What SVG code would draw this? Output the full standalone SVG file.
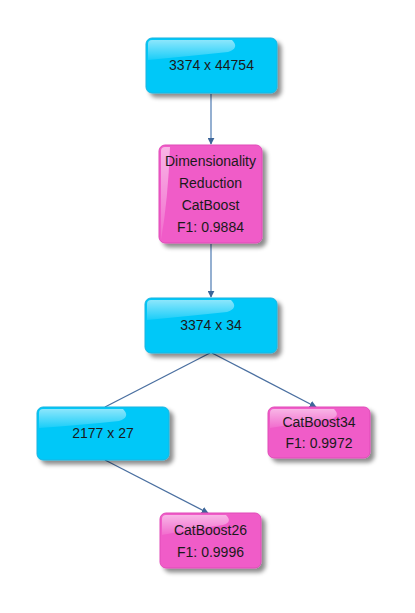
<svg xmlns="http://www.w3.org/2000/svg" width="415" height="613" viewBox="0 0 415 613">
<defs>
<filter id="sh" x="-20%" y="-20%" width="150%" height="150%">
<feDropShadow dx="4" dy="4" stdDeviation="2" flood-color="#000" flood-opacity="0.45"/>
</filter>
<linearGradient id="gloss" x1="0" y1="0" x2="0" y2="1">
<stop offset="0" stop-color="#fff" stop-opacity="0.55"/>
<stop offset="1" stop-color="#fff" stop-opacity="0.1"/>
</linearGradient>
<marker id="ah" viewBox="0 0 10 10" refX="9" refY="5" markerWidth="7" markerHeight="7" orient="auto" markerUnits="userSpaceOnUse">
<path d="M0,0 L10,5 L0,10 Z" fill="#3d6699"/>
</marker>
<style>
.blue{fill:#00c8f8;stroke:#18b4e0;stroke-width:1}
.pink{fill:#f05cc8;stroke:#e04ab8;stroke-width:1}
.t{font-family:"Liberation Sans",Arial,sans-serif;font-size:14px;fill:#1a1a1a;text-anchor:middle}
.c{stroke:#7a9cc6;stroke-width:1.6;fill:none}
.c2{stroke:#4a6fa0;stroke-width:1.3;fill:none}
</style>
</defs>
<rect width="415" height="613" fill="#fff"/>
<g id="connectors">
<line class="c" x1="211" y1="94" x2="211" y2="144" marker-end="url(#ah)"/>
<line class="c" x1="211" y1="244" x2="211" y2="297" marker-end="url(#ah)"/>
<line class="c2" x1="210" y1="353" x2="105" y2="407"/>
<line class="c2" x1="212" y1="353" x2="316" y2="407" marker-end="url(#ah)"/>
<line class="c2" x1="105" y1="460" x2="208" y2="513" marker-end="url(#ah)"/>
</g>
<g id="n1">
<rect class="blue" x="146" y="38" width="131" height="55" rx="6" filter="url(#sh)"/>
<path d="M148,60 L148,44 Q148,40 152,40 L232,40 Q240,48 228,52 Q190,56 148,60 Z" fill="url(#gloss)"/>
<text class="t" x="211.5" y="70">3374 x 44754</text>
</g>
<g id="n2">
<rect class="pink" x="159" y="145" width="103" height="98" rx="6" filter="url(#sh)"/>
<path d="M161,240 L161,151 Q161,147 165,147 L170,147 Q168,200 161,240 Z" fill="url(#gloss)"/>
<text class="t" x="210.5" y="166">Dimensionality</text>
<text class="t" x="210.5" y="188">Reduction</text>
<text class="t" x="210.5" y="210">CatBoost</text>
<text class="t" x="210.5" y="232">F1: 0.9884</text>
</g>
<g id="n3">
<rect class="blue" x="145" y="298" width="132" height="55" rx="6" filter="url(#sh)"/>
<path d="M147,320 L147,304 Q147,300 151,300 L231,300 Q239,308 227,312 Q189,316 147,320 Z" fill="url(#gloss)"/>
<text class="t" x="211" y="330">3374 x 34</text>
</g>
<g id="n4">
<rect class="blue" x="37" y="407" width="132" height="53" rx="6" filter="url(#sh)"/>
<path d="M39,428 L39,413 Q39,409 43,409 L123,409 Q131,417 119,421 Q81,425 39,428 Z" fill="url(#gloss)"/>
<text class="t" x="103" y="438">2177 x 27</text>
</g>
<g id="n5">
<rect class="pink" x="268" y="407" width="102" height="51" rx="6" filter="url(#sh)"/>
<path d="M270,428 L270,413 Q270,409 274,409 L334,409 Q341,416 331,419 Q300,423 270,428 Z" fill="url(#gloss)"/>
<text class="t" x="319" y="427">CatBoost34</text>
<text class="t" x="319" y="448">F1: 0.9972</text>
</g>
<g id="n6">
<rect class="pink" x="160" y="513" width="101" height="55" rx="6" filter="url(#sh)"/>
<path d="M162,535 L162,519 Q162,515 166,515 L226,515 Q233,522 223,525 Q192,529 162,535 Z" fill="url(#gloss)"/>
<text class="t" x="210.5" y="535">CatBoost26</text>
<text class="t" x="210.5" y="557">F1: 0.9996</text>
</g>
</svg>
